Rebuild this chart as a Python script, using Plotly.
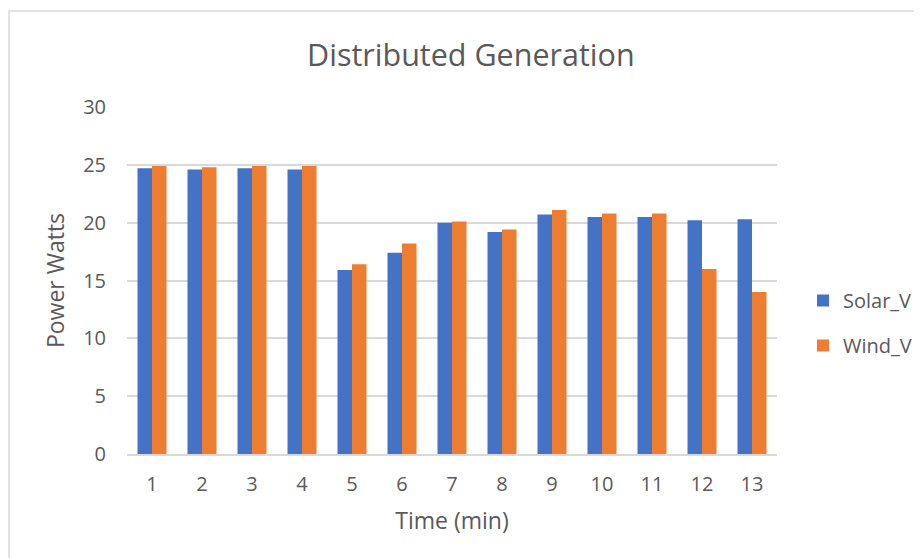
import plotly.graph_objects as go

time_min = [str(i) for i in range(1, 14)]
solar_v = [24.7, 24.6, 24.7, 24.6, 15.9, 17.4, 20.0, 19.2, 20.7, 20.5, 20.5, 20.2, 20.3]
wind_v = [24.9, 24.8, 24.9, 24.9, 16.4, 18.2, 20.1, 19.4, 21.1, 20.8, 20.8, 16.0, 14.0]
y_ticks = [0, 5, 10, 15, 20, 25, 30]

FONT = "Open Sans"
GRAY = "#595959"
W, H = 914, 550  # page body has an 8px offset

fig = go.Figure()
fig.add_trace(go.Bar(x=time_min, y=solar_v, name="Solar_V", marker_color="#4472C4",
                     marker_line_width=0, legendgroup="a"))
fig.add_trace(go.Bar(x=time_min, y=wind_v, name="Wind_V", marker_color="#ED7D31",
                     marker_line_width=0, legendgroup="b"))

fig.update_layout(
    width=W, height=H,
    margin=dict(l=119, r=W - 769, t=99, b=H - 446, autoexpand=False),
    paper_bgcolor="white", plot_bgcolor="white",
    barmode="group", bargap=0.42, bargroupgap=0,
    font=dict(family=FONT, color=GRAY, size=20),
    title=dict(text="Distributed Generation", x=0.529, xref="paper", xanchor="center",
               y=1 - 47 / H, yref="container", yanchor="middle",
               font=dict(family=FONT, size=30.5, color=GRAY)),
    legend=dict(x=795 / W, xref="container", xanchor="left",
                y=1 - 315 / H, yref="container", yanchor="middle",
                traceorder="grouped", tracegroupgap=16,
                font=dict(family=FONT, size=20, color=GRAY),
                bgcolor="rgba(0,0,0,0)"),
    showlegend=True,
)
fig.update_xaxes(
    type="category", showgrid=False, showline=True, linecolor="#d9d9d9", linewidth=1.5,
    ticks="", tickfont=dict(size=20, color=GRAY), ticklabelstandoff=11,
    title=dict(text="Time (min)", font=dict(size=23, color=GRAY), standoff=17),
)
fig.update_yaxes(
    range=[0, 30], tickvals=y_ticks, showgrid=True, gridcolor="#d9d9d9", gridwidth=1.5,
    zeroline=False, showline=False, ticks="", tickfont=dict(size=20, color=GRAY),
    ticklabelstandoff=20,
    title=dict(text="Power Watts", font=dict(size=23, color=GRAY), standoff=12),
)
fig.add_shape(type="rect", xref="paper", yref="paper",
              x0=(1 - 119) / 650, x1=1.5, y0=-0.6, y1=(446 - 3) / 347,
              line=dict(color="#d9d9d9", width=1.5), fillcolor="rgba(0,0,0,0)", layer="below")

fig.write_html("out.html")
